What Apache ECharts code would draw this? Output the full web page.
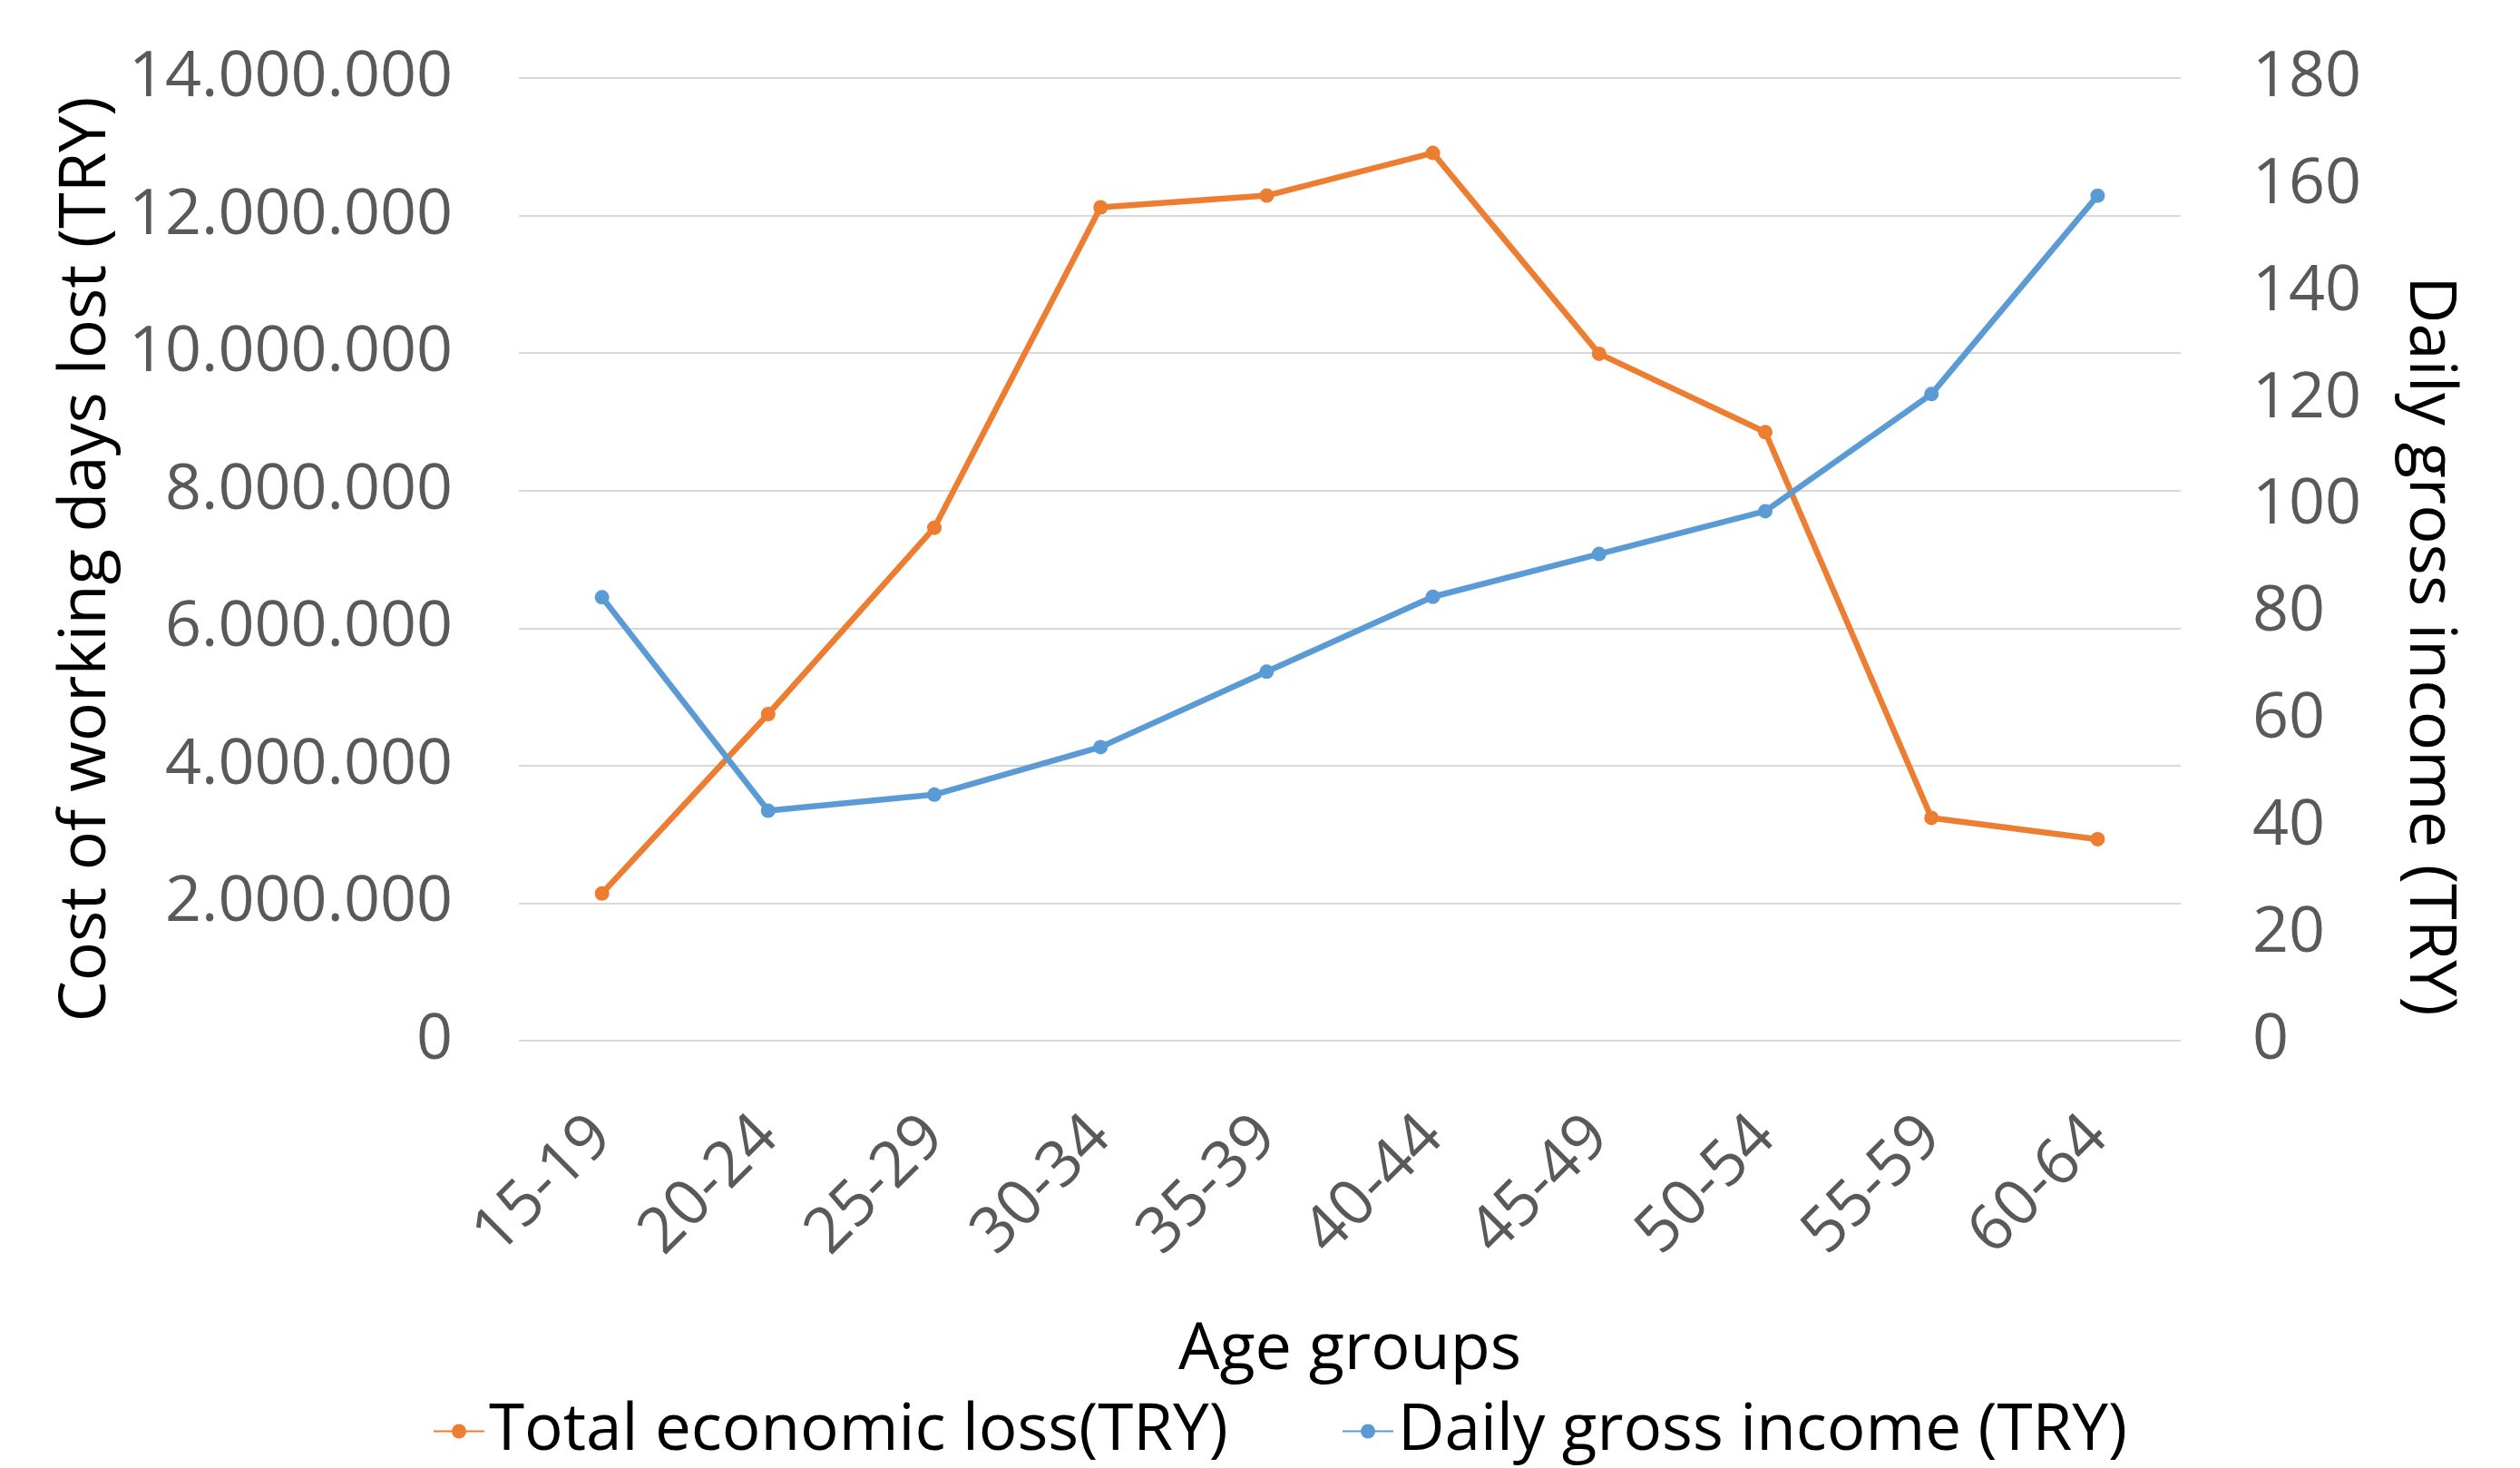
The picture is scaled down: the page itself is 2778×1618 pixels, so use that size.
<!DOCTYPE html>
<html>
<head>
<meta charset="utf-8">
<script src="https://cdn.jsdelivr.net/npm/echarts@6/dist/echarts.min.js"></script>
<style>
html,body{margin:0;padding:0;background:#fff;}
#chart{width:2778px;height:1618px;}
</style>
</head>
<body>
<div id="chart"></div>
<script>
const categories = ['15-19','20-24','25-29','30-34','35-39','40-44','45-49','50-54','55-59','60-64'];
const totalLoss = [2140000, 4750000, 7460000, 12120000, 12290000, 12910000, 9990000, 8850000, 3240000, 2930000];
const dailyIncome = [82.9, 43.0, 46.0, 54.9, 69.0, 83.0, 91.0, 99.0, 120.9, 158.0];
const leftAxis = {min: 0, max: 14000000, interval: 2000000};
const rightAxis = {min: 0, max: 180, interval: 20};
const seriesNames = ['Total economic loss(TRY)', 'Daily gross income (TRY)'];

const FONT = 'Open Sans';
const chart = echarts.init(document.getElementById('chart'));
const fmtDots = v => String(v).replace(/\B(?=(\d{3})+(?!\d))/g, '.');

chart.setOption({
  animation: false,
  backgroundColor: '#ffffff',
  textStyle: {fontFamily: FONT},
  grid: {left: 572, right: 374, top: 86, height: 1061, containLabel: false},
  legend: [
    {data: [seriesNames[0]], left: 472, top: 1537, itemWidth: 56, itemHeight: 20, itemGap: 0,
     textStyle: {fontSize: 71, color: '#000', fontFamily: FONT}},
    {data: [seriesNames[1]], left: 1474, top: 1537, itemWidth: 56, itemHeight: 20, itemGap: 0,
     textStyle: {fontSize: 71, color: '#000', fontFamily: FONT}}
  ],
  xAxis: {
    type: 'category',
    data: categories,
    boundaryGap: true,
    name: 'Age groups',
    nameLocation: 'middle',
    nameGap: 305,
    nameTextStyle: {fontSize: 72, color: '#000', fontFamily: FONT},
    axisLine: {show: false},
    axisTick: {show: false},
    axisLabel: {interval: 0, rotate: 45, margin: 95, fontSize: 70, color: '#595959', fontFamily: FONT}
  },
  yAxis: [
    {
      type: 'value',
      min: leftAxis.min, max: leftAxis.max, interval: leftAxis.interval,
      name: 'Cost of working days lost (TRY)',
      nameLocation: 'middle',
      nameGap: 438,
      nameTextStyle: {fontSize: 72, color: '#000', fontFamily: FONT},
      axisLine: {show: false},
      axisTick: {show: false},
      splitLine: {show: true, lineStyle: {color: '#D9D9D9', width: 2}},
      axisLabel: {margin: 73, fontSize: 70, color: '#595959', fontFamily: FONT, formatter: fmtDots}
    },
    {
      type: 'value',
      position: 'right',
      min: rightAxis.min, max: rightAxis.max, interval: rightAxis.interval,
      alignTicks: false,
      name: 'Daily gross income (TRY)',
      nameLocation: 'middle',
      nameRotate: -90,
      nameGap: 238,
      nameTextStyle: {fontSize: 72, color: '#000', fontFamily: FONT, padding: [0, 0, 0, 191]},
      axisLine: {show: false},
      axisTick: {show: false},
      splitLine: {show: false},
      axisLabel: {margin: 79, fontSize: 70, color: '#595959', fontFamily: FONT}
    }
  ],
  series: [
    {
      name: seriesNames[0], type: 'line', yAxisIndex: 0, data: totalLoss,
      symbol: 'circle', symbolSize: 16, showSymbol: true,
      lineStyle: {color: '#ED7D31', width: 6.5},
      itemStyle: {color: '#ED7D31'}
    },
    {
      name: seriesNames[1], type: 'line', yAxisIndex: 1, data: dailyIncome,
      symbol: 'circle', symbolSize: 16, showSymbol: true,
      lineStyle: {color: '#5B9BD5', width: 6.5},
      itemStyle: {color: '#5B9BD5'}
    }
  ]
});
</script>
</body>
</html>
